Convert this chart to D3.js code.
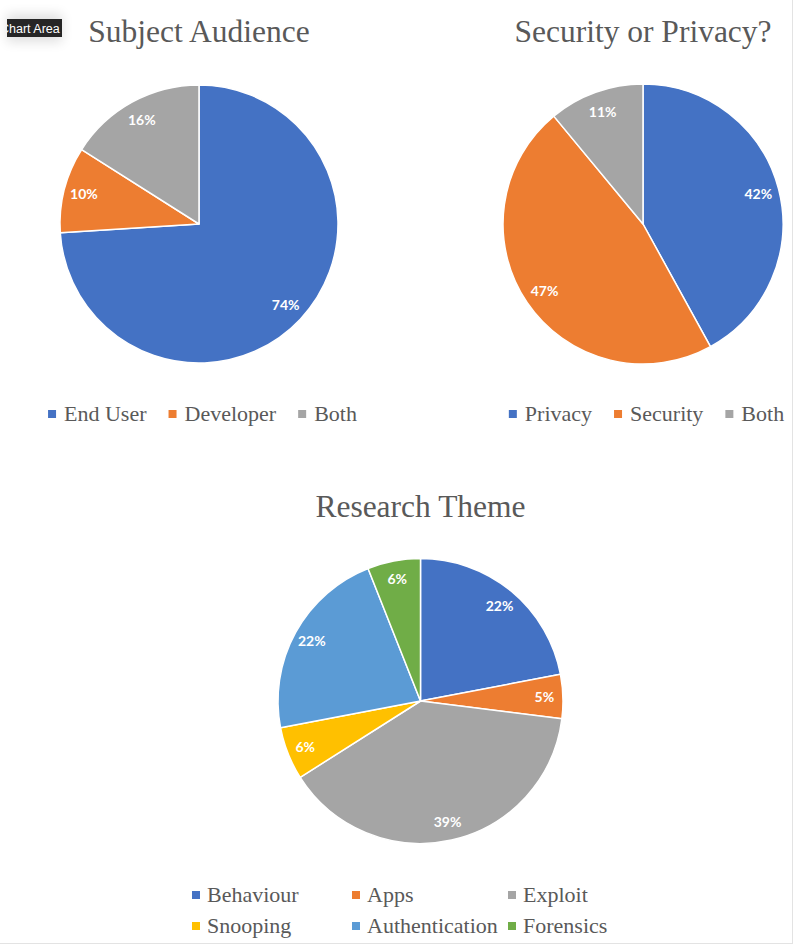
<!DOCTYPE html>
<html><head><meta charset="utf-8">
<script src="https://cdn.jsdelivr.net/npm/d3@7"></script>
<style>
html,body{margin:0;padding:0;background:#fff;}
svg{display:block;}
</style></head>
<body>
<svg id="c" width="795" height="949"></svg>
<script>
// ---- data ----
const audienceCategories = ["End User", "Developer", "Both"];
const audienceValues = [74, 10, 16];
const focusCategories = ["Privacy", "Security", "Both"];
const focusValues = [42, 47, 11];
const themeCategories = ["Behaviour", "Apps", "Exploit", "Snooping", "Authentication", "Forensics"];
const themeValues = [22, 5, 39, 6, 22, 6];
const titles = ["Subject Audience", "Security or Privacy?", "Research Theme"];
const palette3 = ["#4472C4", "#ED7D31", "#A5A5A5"];
const palette6 = ["#4472C4", "#ED7D31", "#A5A5A5", "#FFC000", "#5B9BD5", "#70AD47"];

const svg = d3.select("#c");
const textColor = "#595959";
const serif = "'Liberation Serif','Times New Roman',serif";

// frame lines
svg.append("line").attr("x1", 792.5).attr("x2", 792.5).attr("y1", 0).attr("y2", 944)
  .attr("stroke", "#e3e3e3").attr("stroke-width", 1);
svg.append("line").attr("x1", 0).attr("x2", 793).attr("y1", 943.5).attr("y2", 943.5)
  .attr("stroke", "#e3e3e3").attr("stroke-width", 1);

function drawPie(cfg) {
  const {cats, vals, colors, cx, cy, r, labelFrac, title, titleY} = cfg;
  const g = svg.append("g");
  g.append("text").attr("x", cx).attr("y", titleY).attr("text-anchor", "middle")
    .attr("font-family", serif).attr("font-size", 31.5).attr("fill", textColor).text(title);
  const color = d3.scaleOrdinal().domain(cats).range(colors);
  const total = d3.sum(vals);
  const data = cats.map((c, i) => ({cat: c, val: vals[i]}));
  const arcs = d3.pie().sort(null).value(d => d.val)(data);
  const arc = d3.arc().innerRadius(0).outerRadius(r);
  const lab = d3.arc().innerRadius(r * labelFrac).outerRadius(r * labelFrac);
  const pg = g.append("g").attr("transform", `translate(${cx},${cy})`);
  pg.selectAll("path").data(arcs).join("path")
    .attr("d", arc).attr("fill", d => color(d.data.cat))
    .attr("stroke", "#fff").attr("stroke-width", 1.5).attr("stroke-linejoin", "round");
  pg.selectAll("text").data(arcs).join("text")
    .attr("transform", d => `translate(${lab.centroid(d)})`)
    .attr("text-anchor", "middle").attr("dy", "0.36em")
    .attr("font-family", "Lato,'Open Sans',sans-serif").attr("font-weight", "bold")
    .attr("font-size", 14).attr("fill", "#fff")
    .text(d => Math.round(d.data.val / total * 100) + "%");
  return color;
}

function rowLegend(cats, color, centerX, baseY) {
  const g = svg.append("g");
  const items = g.selectAll("g").data(cats).join("g");
  items.append("rect").attr("width", 8).attr("height", 8).attr("y", baseY - 11)
    .attr("fill", d => color(d));
  items.append("text").attr("x", 16).attr("y", baseY)
    .attr("font-family", serif).attr("font-size", 22).attr("fill", textColor).text(d => d);
  let x = 0;
  items.each(function () {
    const w = d3.select(this).select("text").node().getComputedTextLength();
    d3.select(this).attr("transform", `translate(${x},0)`);
    x += 16 + w + 22;
  });
  const totalW = x - 22;
  g.attr("transform", `translate(${centerX - totalW / 2},0)`);
}

const c1 = drawPie({cats: audienceCategories, vals: audienceValues, colors: palette3,
  cx: 199, cy: 224, r: 139, labelFrac: 0.855, title: titles[0], titleY: 42});
rowLegend(audienceCategories, c1, 202.5, 421);

const c2 = drawPie({cats: focusCategories, vals: focusValues, colors: palette3,
  cx: 643, cy: 224, r: 140, labelFrac: 0.85, title: titles[1], titleY: 42});
rowLegend(focusCategories, c2, 646.5, 421);

const c3 = drawPie({cats: themeCategories, vals: themeValues, colors: palette6,
  cx: 420.5, cy: 701, r: 142.5, labelFrac: 0.87, title: titles[2], titleY: 517});

// grid legend for theme
const colX = [192, 352, 508];
const rowY = [902, 933];
const lg = svg.append("g");
themeCategories.forEach((c, i) => {
  const x = colX[i % 3], y = rowY[Math.floor(i / 3)];
  lg.append("rect").attr("x", x).attr("y", y - 11).attr("width", 8).attr("height", 8).attr("fill", c3(c));
  lg.append("text").attr("x", x + 15).attr("y", y).attr("font-family", serif)
    .attr("font-size", 22).attr("fill", textColor).text(c);
});

// "Chart Area" tooltip (clipped at the left)
const defs = svg.append("defs");
const f = defs.append("filter").attr("id", "sh").attr("x", "-50%").attr("y", "-100%").attr("width", "200%").attr("height", "300%");
f.append("feGaussianBlur").attr("stdDeviation", 6);
defs.append("clipPath").attr("id", "tipclip").append("rect").attr("x", 7).attr("y", 19).attr("width", 55).attr("height", 18);
svg.append("rect").attr("x", 7).attr("y", 14).attr("width", 55).attr("height", 28)
  .attr("fill", "#000").attr("opacity", 0.12).attr("filter", "url(#sh)");
svg.append("rect").attr("x", 7).attr("y", 19).attr("width", 55).attr("height", 18).attr("fill", "#262626");
svg.append("text").attr("x", 0).attr("y", 32.5).attr("clip-path", "url(#tipclip)")
  .attr("font-family", "'Liberation Sans',Arial,sans-serif").attr("font-size", 12.5)
  .attr("fill", "#fff").text("Chart Area");
</script>
</body></html>
